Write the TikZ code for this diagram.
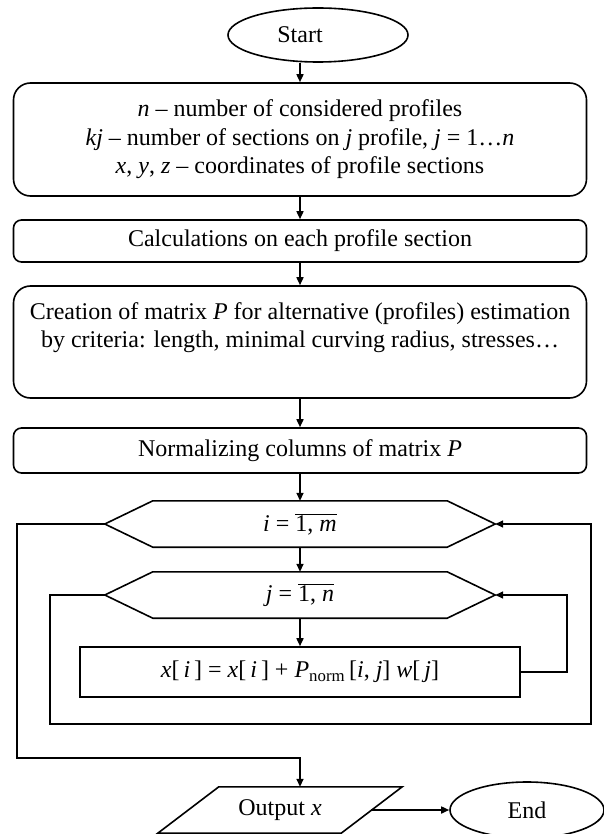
\documentclass[tikz,border=0pt]{standalone}
\usepackage{fontspec}
\setmainfont{Liberation Serif}
\usetikzlibrary{arrows.meta,shapes.geometric,calc}
\begin{document}
\begin{tikzpicture}[x=1pt,y=-1pt,
  every node/.style={font=\fontsize{24}{28.5}\selectfont},
  ln/.style={line width=1.6pt},
  box/.style={draw, ln, rounded corners=17pt, minimum width=573pt, align=center, inner sep=0pt},
  arr/.style={ln, -{Triangle[length=8pt,width=7pt]}},
  hexa/.style={minimum width=390pt, minimum height=46pt, inner sep=0pt},
  term/.style={ellipse, draw, ln, inner sep=0pt}]
\useasboundingbox (0,0) rectangle (604,834);

\node[term, minimum width=180pt, minimum height=54pt] (start) at (318,35) {\hspace*{-36pt}Start};
\node[box, minimum height=113pt] (b1) at (300,139.5)
  {\strut\textit{n} – number of considered profiles\\
   \strut\textit{kj} – number of sections on \textit{j} profile, \textit{j} = 1…\textit{n}\\
   \strut\textit{x}, \textit{y}, \textit{z} – coordinates of profile sections};
\node[box, rounded corners=8pt, minimum height=42pt] (b2) at (300,241) {\strut Calculations on each profile section};
\node[box, minimum height=112pt] (b3) at (300,342)
  {\strut Creation of matrix \textit{P} for alternative (profiles) estimation\\
   \strut by criteria: length, minimal curving radius, stresses…\\ \strut};
\node[box, rounded corners=8pt, minimum height=45pt] (b4) at (300,450.5) {\strut Normalizing columns of matrix \textit{P}};

\node[hexa] (hi) at (300,524) {\textit{i} = $\overline{\hbox{1, \textit{m}}}$};
\draw[ln] (hi.west) -- ([xshift=48pt]hi.north west) -- ([xshift=-48pt]hi.north east) -- (hi.east)
  -- ([xshift=-48pt]hi.south east) -- ([xshift=48pt]hi.south west) -- cycle;
\node[hexa] (hj) at (300,595) {\textit{j} = $\overline{\hbox{1, \textit{n}}}$};
\draw[ln] (hj.west) -- ([xshift=48pt]hj.north west) -- ([xshift=-48pt]hj.north east) -- (hj.east)
  -- ([xshift=-48pt]hj.south east) -- ([xshift=48pt]hj.south west) -- cycle;

\node[draw, ln, minimum width=440pt, minimum height=50pt, inner sep=0pt] (xb) at (300,672)
  {\textit{x}[\,\textit{i}\,] = \textit{x}[\,\textit{i}\,] + \textit{P}\textsubscript{norm}\,[\textit{i}, \textit{j}] \textit{w}[\,\textit{j}]};

\node[minimum width=244pt, minimum height=46pt, inner sep=0pt] (out) at (280,810) {Output \textit{x}};
\draw[ln] (out.south west) -- ([xshift=61pt]out.north west) -- (out.north east) -- ([xshift=-61pt]out.south east) -- cycle;
\node[term, minimum width=154pt, minimum height=56pt] (end) at (527,810) {End};

% main flow
\draw[arr] (start.south -| b1.north) -- (b1.north);
\draw[arr] (b1.south) -- (b2.north);
\draw[arr] (b2.south) -- (b3.north);
\draw[arr] (b3.south) -- (b4.north);
\draw[arr] (b4.south) -- (hi.north);
\draw[arr] (hi.south) -- (hj.north);
\draw[arr] (hj.south) -- (xb.north);

% inner loop
\coordinate (xr) at (567,672);
\draw[arr] (xb.east) -- (xr) |- (hj.east);

% inner loop exit -> outer loop increment
\coordinate (jl) at (50,595);
\coordinate (jbl) at (50,724);
\coordinate (jbr) at (591,724);
\coordinate (jr) at (591,524);
\draw[arr] (hj.west) -- (jl) -- (jbl) -- (jbr) -- (jr) -- (hi.east);

% outer loop exit -> output
\coordinate (il) at (17,524);
\coordinate (ibl) at (17,758);
\coordinate (ibr) at (300,758);
\draw[arr] (hi.west) -- (il) -- (ibl) -- (ibr) -- (ibr |- out.north);

% output -> end
\coordinate (oe) at (371,810);
\draw[arr] (oe) -- (end.west);
\end{tikzpicture}
\end{document}
